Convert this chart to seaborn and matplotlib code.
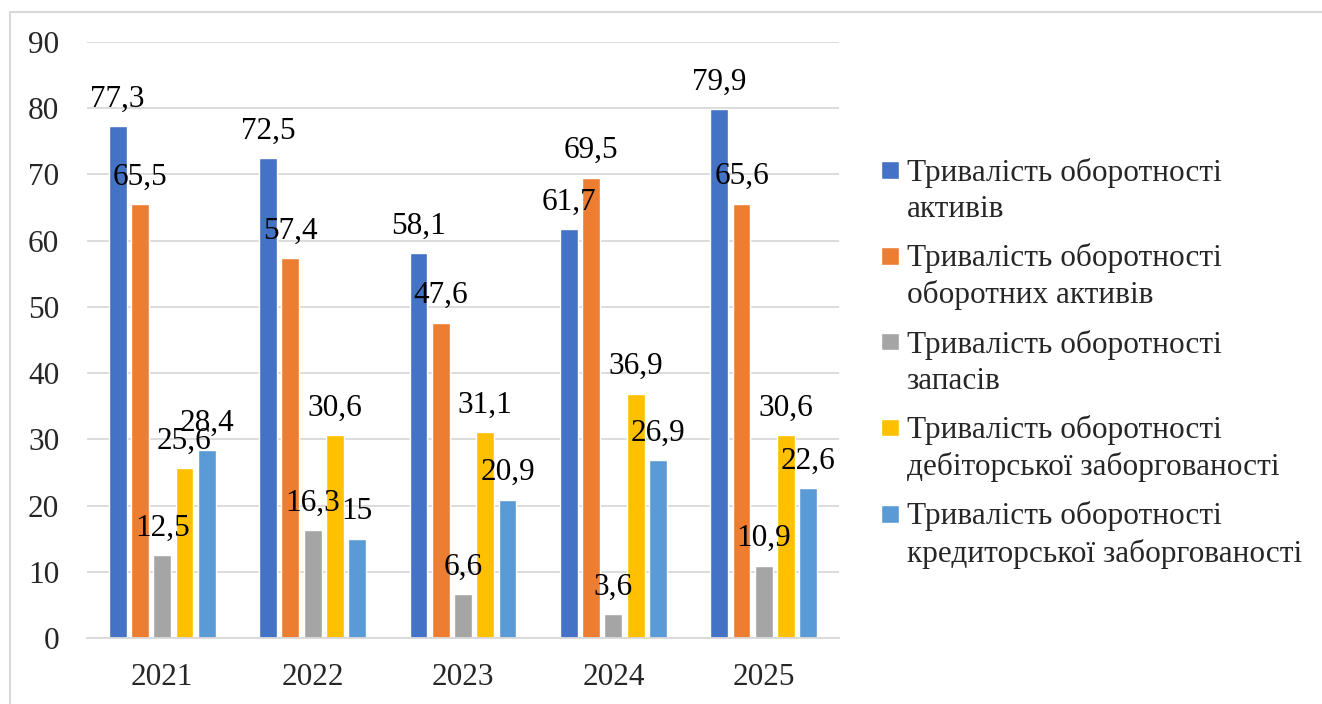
import pandas as pd
import matplotlib
matplotlib.use('Agg')
import matplotlib.pyplot as plt
import seaborn as sns
from matplotlib.lines import Line2D
from matplotlib.patches import Rectangle
from matplotlib.legend_handler import HandlerPatch

# дані
years = ['2021', '2022', '2023', '2024', '2025']
series = [
    'Тривалість оборотності\nактивів',
    'Тривалість оборотності\nоборотних активів',
    'Тривалість оборотності\nзапасів',
    'Тривалість оборотності\nдебіторської заборгованості',
    'Тривалість оборотності\nкредиторської заборгованості',
]
assets = [77.3, 72.5, 58.1, 61.7, 79.9]
current_assets = [65.5, 57.4, 47.6, 69.5, 65.6]
inventory = [12.5, 16.3, 6.6, 3.6, 10.9]
receivables = [25.6, 30.6, 31.1, 36.9, 30.6]
payables = [28.4, 15, 20.9, 26.9, 22.6]
colors = ['#4472C4', '#ED7D31', '#A5A5A5', '#FFC000', '#5B9BD5']

rows = []
for name, vals in zip(series, [assets, current_assets, inventory, receivables, payables]):
    for y, v in zip(years, vals):
        rows.append({'year': y, 'series': name, 'value': v})
df = pd.DataFrame(rows)

sns.set_theme(style='white')
plt.rcParams['font.family'] = ['Liberation Serif', 'DejaVu Serif']
FS = 22.5

fig = plt.figure(figsize=(13.22, 7.04), dpi=100)
ax = fig.add_axes([87 / 1322, 1 - 638 / 704, 752 / 1322, 596 / 704])

sns.barplot(data=df, x='year', y='value', hue='series', palette=colors,
            width=0.74, gap=0.2, ax=ax, saturation=1, legend=True)

for cont in ax.containers:
    ax.bar_label(cont, labels=[f'{v:g}'.replace('.', ',') for v in cont.datavalues],
                 padding=9, fontsize=FS, color='black')

ax.set_ylim(0, 90)
ax.set_xlim(-0.5, 4.5)
ax.set_yticks(range(0, 91, 10))
ax.yaxis.grid(True, color='#D9D9D9', linewidth=1.3)
ax.set_axisbelow(True)
for s in ['top', 'right', 'left']:
    ax.spines[s].set_visible(False)
ax.spines['bottom'].set_color('#D9D9D9')
ax.spines['bottom'].set_linewidth(1.3)
ax.tick_params(axis='y', labelsize=FS, pad=20, length=0)
ax.tick_params(axis='x', labelsize=FS, pad=18, length=0)
ax.set_xlabel('')
ax.set_ylabel('')


def top_square(legend, orig_handle, xdescent, ydescent, width, height, fontsize):
    # квадрат на рівні першого рядка підпису
    return Rectangle((-xdescent, 0.74 * fontsize), width, width)


handles, labels = ax.get_legend_handles_labels()
leg = ax.legend(handles, labels, loc='upper left', bbox_to_anchor=(881 / 1322, 1 - 158 / 704),
                bbox_transform=fig.transFigure, frameon=False, fontsize=FS,
                handlelength=0.56, handleheight=0.5, handletextpad=0.26, labelspacing=0.62,
                borderaxespad=0, borderpad=0,
                handler_map={Rectangle: HandlerPatch(patch_func=top_square)})
for t in leg.get_texts():
    t.set_linespacing(1.31)

# рамка діаграми
fig.add_artist(Line2D([10 / 1322, 1], [1 - 11.5 / 704, 1 - 11.5 / 704], color='#D9D9D9', lw=1.5,
                      transform=fig.transFigure))
fig.add_artist(Line2D([10 / 1322, 10 / 1322], [0, 1 - 11.5 / 704], color='#D9D9D9', lw=1.5,
                      transform=fig.transFigure))

fig.savefig('out.png', dpi=100)
